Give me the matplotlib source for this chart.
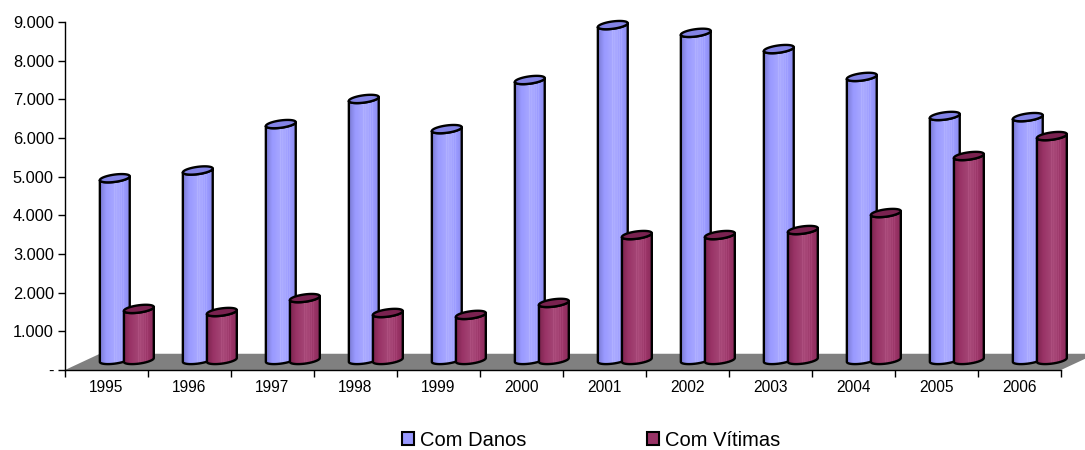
import numpy as np
import matplotlib
matplotlib.use("Agg")
import matplotlib.pyplot as plt
from matplotlib.patches import Polygon, Patch
from matplotlib.colors import to_rgb

plt.rcParams['font.family'] = ['Liberation Sans', 'DejaVu Sans']

# data
years = ['1995', '1996', '1997', '1998', '1999', '2000',
         '2001', '2002', '2003', '2004', '2005', '2006']
com_danos = [4700, 4900, 6100, 6750, 5970, 7240, 8660, 8460, 8040, 7320, 6310, 6280]
com_vitimas = [1320, 1240, 1600, 1215, 1165, 1475, 3230, 3230, 3360, 3800, 5275, 5790]
series_names = ['Com Danos', 'Com Vítimas']
yticks = np.arange(0, 9001, 1000)

# look of the 3d cylinders
face = ['#9999ff', '#993366']
dark = ['#7c7cd6', '#7d2550']
light = ['#a8a8ff', '#a54676']
top_col = ['#8383e6', '#7a2250']
half_w = 0.18        # half width of a cylinder (category units)
ell_b = 95           # half height of the end ellipses (value units)
shear = 50           # tilt of the ellipses
base = 260           # cylinder base sits mid-depth on the floor
x_off = [0.60, 0.89] # position of each series inside its category
floor_dx, floor_dy = 0.42, 420


def ellipse_pts(cx, cy, t):
    return np.column_stack([cx + half_w * np.cos(t),
                            cy + ell_b * np.sin(t) + shear * np.cos(t)])


def gradient(k, n=40):
    c0, c1, c2 = np.array(to_rgb(dark[k])), np.array(to_rgb(face[k])), np.array(to_rgb(light[k]))
    pos = np.linspace(0, 1, n)
    w = np.interp(pos, [0, 0.2, 0.5, 0.7, 0.9, 1], [0, 0.6, 1, 0.8, 0.5, 0.3])
    cols = np.where(w[:, None] < 0.6,
                    c0 + (c1 - c0) * (w[:, None] / 0.6),
                    c1 + (c2 - c1) * ((w[:, None] - 0.6) / 0.4))
    # thin highlight stripes
    for p in (0.5, 0.58, 0.66, 0.74, 0.82):
        cols[int(p * (n - 1))] = np.minimum(cols[int(p * (n - 1))] + 0.06, 1)
    return cols[None, :, :]


def cylinder(ax, cx, value, k):
    yt = base + value
    lower = np.linspace(np.pi, 2 * np.pi, 60)
    body = np.vstack([ellipse_pts(cx, base, lower),
                      ellipse_pts(cx, yt, lower[::-1])])
    poly = Polygon(body, closed=True, facecolor='none', edgecolor='black',
                   lw=1.7, zorder=3 + k, joinstyle='round', clip_on=False)
    img = ax.imshow(gradient(k), extent=[cx - half_w, cx + half_w, base - ell_b - shear, yt + ell_b + shear],
                    aspect='auto', origin='lower', zorder=3 + k, interpolation='bilinear')
    ax.add_patch(poly)
    img.set_clip_path(poly)
    img.set_clip_box(fig.bbox)
    top = Polygon(ellipse_pts(cx, yt, np.linspace(0, 2 * np.pi, 80)), closed=True,
                  facecolor=top_col[k], edgecolor='black', lw=1.7, zorder=3 + k, clip_on=False)
    ax.add_patch(top)


fig = plt.figure(figsize=(10.85, 4.5), dpi=100)
ax = fig.add_axes([65 / 1085, 80 / 450, 996 / 1085, 348 / 450])

n = len(years)
floor = Polygon([(0, 0), (n, 0), (n + floor_dx, floor_dy), (floor_dx, floor_dy)],
                closed=True, facecolor='#808080', edgecolor='none', zorder=1, clip_on=False)
ax.add_patch(floor)

for i in range(n):
    cylinder(ax, i + x_off[0], com_danos[i], 0)
    cylinder(ax, i + x_off[1], com_vitimas[i], 1)

ax.set_xlim(0, n)
ax.set_ylim(0, 9000)
for s in ('top', 'right'):
    ax.spines[s].set_visible(False)
for s in ('left', 'bottom'):
    ax.spines[s].set_linewidth(1.0)
    ax.spines[s].set_zorder(2)

ax.set_yticks(yticks)
ax.set_yticklabels(['-' if v == 0 else f'{v:,}'.replace(',', '.') for v in yticks])
ax.tick_params(axis='y', length=5, width=1, pad=3, labelsize=11.8)
ax.set_xticks(np.arange(n + 1))
ax.set_xticklabels([])
ax.set_xticks(np.arange(n) + 0.5, minor=True)
ax.set_xticklabels(years, minor=True)
ax.tick_params(axis='x', which='major', length=5, width=1)
ax.tick_params(axis='x', which='minor', length=0, pad=7, labelsize=11.2)

handles = [Patch(facecolor=face[k], edgecolor='black', lw=1.5) for k in range(2)]
fig.legend(handles, series_names, loc='center', bbox_to_anchor=(0.545, 0.022),
           ncol=2, frameon=False, fontsize=14.5, handlelength=0.6, handleheight=0.6,
           handletextpad=0.3, columnspacing=6.0)

fig.savefig('out.png', dpi=100)
